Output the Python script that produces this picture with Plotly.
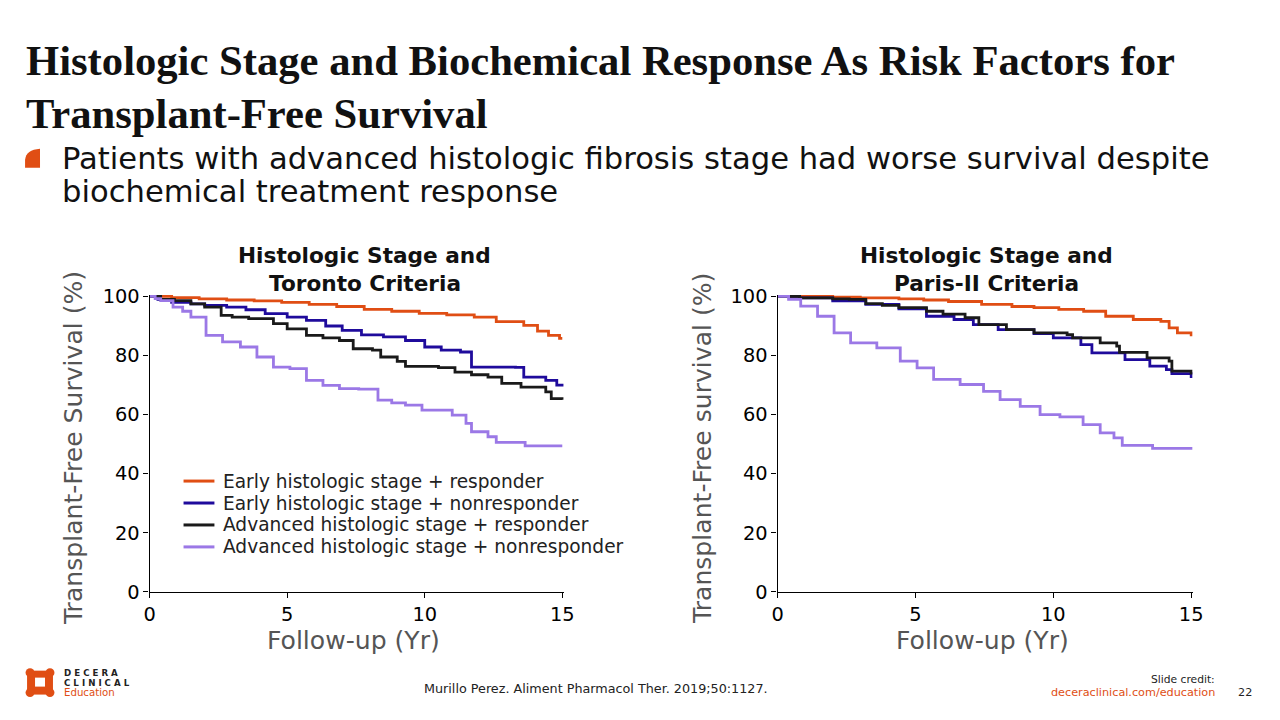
import plotly.graph_objects as go

W, H = 1280, 720

# ---------------- data ----------------
series_names = [
    "Early histologic stage + responder",
    "Early histologic stage + nonresponder",
    "Advanced histologic stage + responder",
    "Advanced histologic stage + nonresponder",
]
series_colors = ["#E04E14", "#1F0B9C", "#1A1A1A", "#9B78E6"]

# Toronto criteria (left panel)
tor_early_resp_t = [0, 0.8, 1.8, 2.8, 3.8, 4.8, 5.8, 6.8, 7.8, 8.8, 9.8, 10.8, 11.8, 12.6, 13.6, 14.1, 14.5, 14.9, 15]
tor_early_resp_s = [100, 99.6, 99.2, 98.8, 98.5, 98.0, 97.3, 96.6, 95.6, 95.0, 94.3, 93.8, 93.0, 91.5, 90.2, 88.3, 86.8, 85.8, 85.8]

tor_early_non_t = [0, 0.3, 0.8, 1.5, 2.0, 2.8, 3.5, 4.2, 5.0, 5.7, 6.4, 7.0, 7.7, 8.5, 9.3, 10.0, 10.6, 11.3, 11.7, 13.3, 13.6, 14.4, 14.8, 15]
tor_early_non_s = [100, 99.0, 98.0, 97.5, 97.0, 96.4, 95.5, 94.2, 93.0, 91.9, 90.0, 88.5, 87.0, 86.3, 85.1, 82.9, 81.8, 81.2, 76.1, 76.0, 72.7, 71.6, 70.0, 69.5]

tor_adv_resp_t = [0, 0.4, 0.9, 1.5, 2.0, 2.6, 3.0, 3.6, 4.5, 5.0, 5.7, 6.3, 6.9, 7.4, 8.1, 8.4, 9.0, 9.3, 10.5, 11.1, 11.7, 12.3, 12.8, 13.5, 14.4, 14.6, 15]
tor_adv_resp_s = [100, 99.0, 98.6, 97.5, 96.4, 93.6, 93.0, 92.5, 90.8, 89.0, 86.8, 86.0, 85.1, 82.3, 81.8, 79.5, 78.0, 76.3, 75.9, 74.4, 73.5, 72.7, 70.6, 69.3, 67.7, 65.4, 65.0]

tor_adv_non_t = [0, 0.2, 0.4, 0.85, 1.2, 1.5, 2.05, 2.65, 3.3, 3.9, 4.5, 5.1, 5.7, 6.3, 6.9, 7.6, 8.3, 8.8, 9.3, 9.9, 11.0, 11.5, 11.7, 12.3, 12.6, 13.65, 15]
tor_adv_non_s = [100, 99.3, 98.6, 96.4, 95.0, 93.0, 86.8, 84.6, 82.9, 79.5, 76.1, 75.6, 71.6, 69.9, 68.8, 68.6, 64.9, 64.0, 63.2, 61.5, 59.8, 57.0, 54.2, 52.5, 50.6, 49.4, 49.4]

# Paris-II criteria (right panel)
par_early_resp_t = [0, 1.0, 2.0, 3.0, 4.4, 5.3, 6.2, 7.4, 8.5, 9.3, 10.2, 11.1, 11.9, 12.9, 13.9, 14.2, 14.5, 15]
par_early_resp_s = [100, 100, 99.8, 99.5, 99.2, 98.8, 98.3, 97.3, 96.6, 96.2, 95.6, 95.0, 93.3, 92.2, 91.6, 89.4, 87.7, 86.5]

par_early_non_t = [0, 0.8, 2.0, 3.2, 4.4, 5.4, 6.4, 7.1, 8.0, 9.3, 10.0, 11.0, 11.4, 12.6, 13.5, 14.1, 14.3, 15]
par_early_non_s = [100, 99.5, 98.5, 97.3, 95.8, 93.3, 92.2, 90.5, 88.8, 87.4, 86.0, 83.7, 80.9, 78.6, 76.4, 75.2, 73.9, 72.4]

par_adv_resp_t = [0, 0.8, 2.0, 2.6, 3.2, 3.8, 4.4, 5.4, 6.0, 6.8, 7.3, 8.0, 8.3, 9.3, 10.5, 10.7, 11.7, 12.3, 12.4, 13.3, 13.4, 14.2, 14.3, 15]
par_adv_resp_s = [100, 99.5, 99.2, 99.0, 97.6, 97.0, 96.2, 95.0, 94.0, 92.8, 90.5, 90.5, 88.8, 87.7, 87.1, 86.0, 84.3, 83.2, 81.1, 81.1, 79.2, 78.1, 74.7, 73.6]

par_adv_non_t = [0, 0.4, 0.84, 1.45, 2.05, 2.65, 3.6, 4.45, 5.06, 5.66, 6.62, 7.47, 8.07, 8.8, 9.52, 10.24, 11.08, 11.7, 12.2, 12.5, 13.6, 15]
par_adv_non_s = [100, 99.0, 96.7, 93.3, 87.7, 84.3, 82.6, 78.1, 75.8, 71.9, 70.2, 67.9, 65.1, 62.8, 60.0, 59.2, 56.6, 53.8, 52.1, 49.6, 48.6, 48.1]

x_ticks = [0, 5, 10, 15]
y_ticks = [0, 20, 40, 60, 80, 100]

# ---------------- helpers ----------------
# empirical correction from target picture pixels to layout pixels
AX, BX = 0.990, 13.9
AY, BY = 0.973, 14.9

def LX(x):
    return (x - BX) / AX

def LY(y):
    return (y - BY) / AY

def px(x):
    return LX(x) / W

def py(y):
    return 1 - LY(y) / H

FS = 1 / 0.98  # font size compensation
SANS = "DejaVu Sans"
fig = go.Figure()

left = [(tor_early_resp_t, tor_early_resp_s), (tor_early_non_t, tor_early_non_s),
        (tor_adv_resp_t, tor_adv_resp_s), (tor_adv_non_t, tor_adv_non_s)]
right = [(par_early_resp_t, par_early_resp_s), (par_early_non_t, par_early_non_s),
         (par_adv_resp_t, par_adv_resp_s), (par_adv_non_t, par_adv_non_s)]

for i, (t, s) in enumerate(left):
    fig.add_trace(go.Scatter(x=t, y=s, mode="lines", line=dict(color=series_colors[i], width=2.8, shape="hv"),
                             name=series_names[i], xaxis="x", yaxis="y", showlegend=False))
for i, (t, s) in enumerate(right):
    fig.add_trace(go.Scatter(x=t, y=s, mode="lines", line=dict(color=series_colors[i], width=2.8, shape="hv"),
                             name=series_names[i], xaxis="x2", yaxis="y2", showlegend=False))

# axis geometry (target pixels)
Y0, Y100 = 591, 295
YMAX = 100.6
XMAX = 15.05
ppu_y = (Y0 - Y100) / 100.0
Ytop = Y100 - (YMAX - 100) * ppu_y
L_x0, L_x15 = 150, 564
R_x0, R_x15 = 780, 1195
ppu_xl = (L_x15 - L_x0) / 15
ppu_xr = (R_x15 - R_x0) / 15

ax_common = dict(showline=True, linecolor="black", linewidth=1.3, ticks="outside", tickcolor="black",
                 ticklen=5, tickwidth=1.3, showgrid=False, zeroline=False,
                 tickfont=dict(family=SANS, size=19 * FS, color="black"))

fig.update_layout(
    width=W, height=H, margin=dict(l=0, r=0, t=0, b=0),
    paper_bgcolor="white", plot_bgcolor="white",
    xaxis=dict(domain=[px(L_x0), px(L_x15 + (XMAX - 15) * ppu_xl)], range=[0, XMAX], tickvals=x_ticks,
               anchor="y", **ax_common),
    yaxis=dict(domain=[py(Y0), py(Ytop)], range=[0, YMAX], tickvals=y_ticks, anchor="x",
               **ax_common),
    xaxis2=dict(domain=[px(R_x0), px(R_x15 + (XMAX - 15) * ppu_xr)], range=[0, XMAX], tickvals=x_ticks,
                anchor="y2", **ax_common),
    yaxis2=dict(domain=[py(Y0), py(Ytop)], range=[0, YMAX], tickvals=y_ticks, anchor="x2",
                **ax_common),
    showlegend=False,
)

ann = []
def A(text, x, y, size, color="#111", xa="left", family=SANS, **kw):
    d = dict(text=text, x=px(x), y=py(y), xanchor=xa, yanchor="middle",
             font=dict(family=family, size=size * FS, color=color), xref="paper", yref="paper",
             showarrow=False)
    d.update(kw)
    ann.append(d)

# slide title
A("<b>Histologic Stage and Biochemical Response As Risk Factors for</b>", 24, 58, 41.8, family="Liberation Serif")
A("<b>Transplant-Free Survival</b>", 24, 112, 41.8, family="Liberation Serif")
# bullet
A("Patients with advanced histologic fibrosis stage had worse survival despite", 60, 157, 30)
A("biochemical treatment response", 60, 190, 30)
# panel titles
for cx, l2 in [(366, "Toronto Criteria"), (990, "Paris-II Criteria")]:
    A("<b>Histologic Stage and</b>", cx, 254, 21.2, xa="center")
    A("<b>" + l2 + "</b>", cx, 282, 21.2, xa="center")
# axis titles
for cx, txt in [(73, "Transplant-Free Survival (%)"), (704, "Transplant-Free survival (%)")]:
    A(txt, cx, 447, 24.6, color="#555", xa="center", textangle=-90)
for cx in [355, 986]:
    A("Follow-up (Yr)", cx, 640, 24.6, color="#555", xa="center")

# legend (manual, inside left panel)
leg_y = [480, 502, 524, 546]
shapes = []
for i, nm in enumerate(series_names):
    A(nm, 222, leg_y[i], 18.2, color="#222")
    shapes.append(dict(type="line", xref="paper", yref="paper", x0=px(184), x1=px(215),
                       y0=py(leg_y[i]), y1=py(leg_y[i]), line=dict(color=series_colors[i], width=3)))

# footer
A("Murillo Perez. Aliment Pharmacol Ther. 2019;50:1127.", 598, 688, 12.5, color="#222", xa="center")
A("Slide credit:", 1221, 679, 10.5, color="#222", xa="right")
A("deceraclinical.com/education", 1221, 692, 11, color="#E04E14", xa="right")
A("22", 1249, 692, 11, color="#222", xa="center")
A("<b>D E C E R A</b>", 62, 672, 8.5, color="#222")
A("<b>C L I N I C A L</b>", 62, 682, 8.5, color="#222")
A("Education", 62, 692, 10, color="#E04E14")
fig.update_layout(annotations=ann)

OR = "#E04E14"
# bullet marker
shapes.append(dict(type="path", xref="paper", yref="paper", line=dict(width=0), fillcolor=OR,
                   path=f"M {px(25):.5f},{py(166):.5f} L {px(25):.5f},{py(158):.5f} Q {px(26):.5f},{py(148):.5f} {px(40):.5f},{py(147):.5f} L {px(40):.5f},{py(166):.5f} Z"))
# logo
shapes.append(dict(type="rect", xref="paper", yref="paper", x0=px(27), x1=px(53), y0=py(694), y1=py(670),
                   fillcolor=OR, line=dict(width=0)))
for (cx, cy) in [(30, 672), (50, 672), (30, 692), (50, 692)]:
    shapes.append(dict(type="circle", xref="paper", yref="paper", x0=px(cx - 4.5), x1=px(cx + 4.5),
                       y0=py(cy + 4.5), y1=py(cy - 4.5), fillcolor=OR, line=dict(width=0)))
shapes.append(dict(type="rect", xref="paper", yref="paper", x0=px(35), x1=px(45), y0=py(686), y1=py(677),
                   fillcolor="white", line=dict(width=0)))
fig.update_layout(shapes=shapes)

fig.write_html("out.html")
